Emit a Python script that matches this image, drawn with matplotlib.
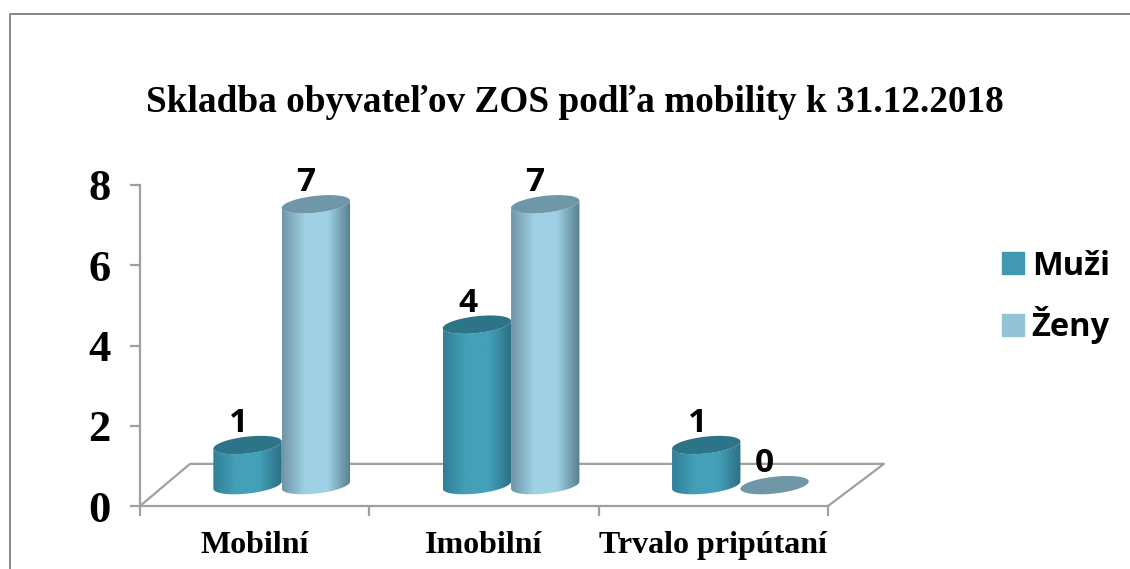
import numpy as np
import matplotlib
matplotlib.use('Agg')
import matplotlib.pyplot as plt
from matplotlib.patches import Patch, PathPatch
from matplotlib.path import Path
from matplotlib.colors import LinearSegmentedColormap

categories = ['Mobilní', 'Imobilní', 'Trvalo pripútaní']
muzi = [1, 4, 1]
zeny = [7, 7, 0]
y_ticks = [0, 2, 4, 6, 8]
title = 'Skladba obyvateľov ZOS podľa mobility k 31.12.2018'

W, H = 1130, 569
fig = plt.figure(figsize=(W / 100, H / 100), dpi=100)
ax = fig.add_axes([140 / W, 1 - 506 / H, 688 / W, 321 / H])
ax.set_xlim(0, 3)
ax.set_ylim(0, 8)

GRAY = '#a0a0a0'
for s in ['top', 'right']:
    ax.spines[s].set_visible(False)
for s in ['left', 'bottom']:
    ax.spines[s].set_color(GRAY)
    ax.spines[s].set_linewidth(1.6)
ax.set_yticks(y_ticks)
ax.set_xticks(range(4))
ax.set_xticklabels([])
ax.tick_params(axis='both', color=GRAY, width=1.6, length=7)
ax.tick_params(axis='y', labelsize=32, pad=14)
for lab in ax.get_yticklabels():
    lab.set_fontfamily('Liberation Serif')
    lab.set_fontweight('bold')

# floor of the fake 3d box
ax.plot([0, 0.218, 3.244, 3], [0, 1.05, 1.05, 0], color=GRAY, lw=1.6, clip_on=False, zorder=1)

bar_w = 0.298
depth_x = 0.118
depth_y = 0.52
ell_h = 0.21
slope = 0.09


def ellipse_pts(cx, cy, t):
    x = cx + bar_w / 2 * np.cos(t)
    y = cy + ell_h * np.sin(t) + slope * np.cos(t)
    return x, y


def cylinder(cx, value, edge, mid, top, z):
    base = depth_y
    t_low = np.linspace(np.pi, 2 * np.pi, 40)
    t_all = np.linspace(0, 2 * np.pi, 80)
    top_x, top_y = ellipse_pts(cx, base + value, t_all)
    if value > 0:
        x1, y1 = ellipse_pts(cx, base, t_low)
        x2, y2 = ellipse_pts(cx, base + value, t_low[::-1])
        verts = np.column_stack([np.r_[x1, x2], np.r_[y1, y2]])
        body = PathPatch(Path(np.vstack([verts, verts[0]]), closed=True), fc='none', ec='none', zorder=z)
        ax.add_patch(body)
        cmap = LinearSegmentedColormap.from_list('c', [edge[0], mid, mid, edge[1]])
        grad = np.linspace(0, 1, 128).reshape(1, -1)
        im = ax.imshow(grad, cmap=cmap, aspect='auto', zorder=z,
                       extent=[cx - bar_w / 2, cx + bar_w / 2, 0, 8])
        im.set_clip_path(body)
    ax.fill(top_x, top_y, color=top, lw=0, zorder=z + 0.1, clip_on=False)


for i in range(len(categories)):
    cx = i + 0.5 + depth_x
    cylinder(cx - bar_w / 2, muzi[i], ('#2f7f96', '#2c6f84'), '#43a0b8', '#2e7488', 3)
    cylinder(cx + bar_w / 2, zeny[i], ('#6f96a6', '#557f8e'), '#9fd1e5', '#6f97a8', 4)
    ax.text(cx - bar_w / 2 - 0.04, muzi[i] + depth_y + 0.12, str(muzi[i]), ha='center', va='bottom',
            fontsize=24, fontweight='bold', family='Open Sans', zorder=6)
    ax.text(cx + bar_w / 2 - 0.045, zeny[i] + depth_y + 0.12, str(zeny[i]), ha='center', va='bottom',
            fontsize=24, fontweight='bold', family='Open Sans', zorder=6)
    ax.text(i + 0.5, -0.63, categories[i], ha='center', va='top', fontsize=23,
            fontweight='bold', family='Liberation Serif')
ax.set_xlim(0, 3)
ax.set_ylim(0, 8)

fig.text(575 / W, 1 - 102 / H, title, ha='center', va='center', fontsize=26.8,
         fontweight='bold', family='Liberation Serif')

handles = [Patch(color='#4198b1', label='Muži'), Patch(color='#93c3d6', label='Ženy')]
fig.legend(handles=handles, loc='center left', bbox_to_anchor=(973 / W, 1 - 297 / H), frameon=False,
           prop={'family': 'Open Sans', 'weight': 'bold', 'size': 23.5}, handlelength=0.65, handleheight=0.65,
           handletextpad=0.25, labelspacing=0.72)

# outer frame, open on the right
fig.add_artist(plt.Line2D([9.5 / W, 9.5 / W, 1], [0, 1 - 13.5 / H, 1 - 13.5 / H], color='#888888', lw=1.4))

fig.savefig('out.png', dpi=100)
